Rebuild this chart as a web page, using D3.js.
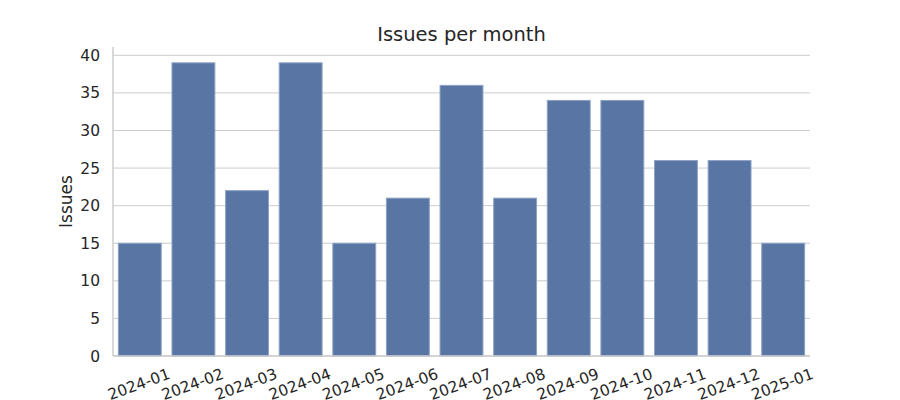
<!DOCTYPE html>
<html><head><meta charset="utf-8">
<script src="https://cdn.jsdelivr.net/npm/d3@7"></script>
<style>body{margin:0;background:#fff}svg{display:block}text{font-family:"DejaVu Sans",sans-serif;fill:#262626}</style>
</head><body><svg id="c" width="900" height="400"></svg>
<script>
const months = ["2024-01","2024-02","2024-03","2024-04","2024-05","2024-06","2024-07","2024-08","2024-09","2024-10","2024-11","2024-12","2025-01"];
const issues = [15,39,22,39,15,21,36,21,34,34,26,26,15];
const yTicks = [0,5,10,15,20,25,30,35,40];

const svg = d3.select("#c");
const L=113, R=810, T=47, B=356;
const x = d3.scaleBand().domain(months).range([L,R]).paddingInner(0.2).paddingOuter(0.1);
const y = d3.scaleLinear().domain([0, d3.max(issues)*1.054]).range([B,T]);

// grid
svg.append("g").selectAll("line").data(yTicks).join("line")
  .attr("x1",L).attr("x2",R).attr("y1",d=>y(d)).attr("y2",d=>y(d))
  .attr("stroke","#cccccc").attr("stroke-width",1);

// bars
svg.append("g").selectAll("rect").data(issues).join("rect")
  .attr("x",(d,i)=>x(months[i])).attr("width",x.bandwidth())
  .attr("y",d=>y(d)).attr("height",d=>B-y(d))
  .attr("fill","#5875a4").attr("stroke","#8ea2c4").attr("stroke-width",1);

// spines
svg.append("line").attr("x1",L).attr("x2",L).attr("y1",T).attr("y2",B).attr("stroke","#cccccc").attr("stroke-width",1.5);
svg.append("line").attr("x1",L).attr("x2",R).attr("y1",B).attr("y2",B).attr("stroke","#cccccc").attr("stroke-width",1.5);

// y tick labels
svg.append("g").selectAll("text").data(yTicks).join("text")
  .attr("x",L-13).attr("y",d=>y(d)).attr("dy","0.36em").attr("text-anchor","end")
  .attr("font-size","15.5px").text(d=>d);

// x tick labels
svg.append("g").selectAll("text").data(months).join("text")
  .attr("transform",d=>`translate(${x(d)+x.bandwidth()/2-1},${B+28}) rotate(-20)`)
  .attr("text-anchor","middle").attr("dy","0.36em").attr("font-size","15.5px").text(d=>d);

// y label
svg.append("text").attr("transform",`translate(72,${(T+B)/2}) rotate(-90)`)
  .attr("text-anchor","middle").attr("font-size","17px").text("Issues");

// title
svg.append("text").attr("x",(L+R)/2).attr("y",41).attr("text-anchor","middle")
  .attr("font-size","19.5px").text("Issues per month");
</script></body></html>
